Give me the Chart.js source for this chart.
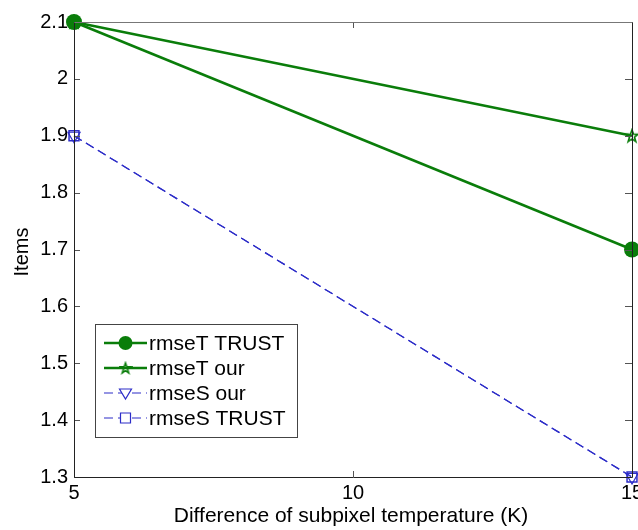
<!DOCTYPE html>
<html>
<head>
<meta charset="utf-8">
<script src="https://cdn.jsdelivr.net/npm/chart.js@4/dist/chart.umd.min.js"></script>
<style>
  html, body { margin: 0; padding: 0; background: #fff; }
  #chart { display: block; }
</style>
</head>
<body>
<canvas id="chart" width="638" height="530"></canvas>
<script>
const xValues = [5, 15];
const rmseTTrust = [2.1, 1.7];
const rmseTOur = [2.1, 1.9];
const rmseSOur = [1.9, 1.3];
const rmseSTrust = [1.9, 1.3];

const xTicks = [5, 10, 15];
const yTicks = [1.3, 1.4, 1.5, 1.6, 1.7, 1.8, 1.9, 2, 2.1];

const GREEN = '#0a7d0a';
const BLUE = 'rgb(45,45,200)';
const FONT = '20px "Liberation Sans", Arial, sans-serif';
const FONT_BIG = '21px "Liberation Sans", Arial, sans-serif';

// pentagram marker (outline) used for the "our" series
function makeStar(size, color) {
    const c = document.createElement('canvas');
    c.width = size; c.height = size;
    const g = c.getContext('2d');
    const cx = size / 2, cy = size / 2 + 0.5, R = size / 2 - 1.5, r = R * 0.4;
    g.beginPath();
    for (let i = 0; i < 10; i++) {
        const rad = i % 2 === 0 ? R : r;
        const a = -Math.PI / 2 + i * Math.PI / 5;
        const px = cx + rad * Math.cos(a), py = cy + rad * Math.sin(a);
        if (i === 0) g.moveTo(px, py); else g.lineTo(px, py);
    }
    g.closePath();
    g.strokeStyle = color;
    g.lineWidth = 1.6;
    g.stroke();
    return c;
}
const starImg = makeStar(16, GREEN);
const starSmall = makeStar(14, GREEN);

function toPoints(ys) {
    return xValues.map((x, i) => ({ x: x, y: ys[i] }));
}

const legendItems = [
    { label: 'rmseT TRUST', color: GREEN, width: 2.5, dash: [], marker: 'circle' },
    { label: 'rmseT our', color: GREEN, width: 2.5, dash: [], marker: 'star' },
    { label: 'rmseS our', color: BLUE, width: 1.2, dash: [9, 5], marker: 'triangle' },
    { label: 'rmseS TRUST', color: BLUE, width: 1.2, dash: [9, 5], marker: 'rect' }
];

// axes box, inward ticks, tick labels and titles
const axesPlugin = {
    id: 'axesBox',
    afterDatasetsDraw(chart) {
        const ctx = chart.ctx;
        const area = chart.chartArea;
        const xs = chart.scales.x, ys = chart.scales.y;
        ctx.save();

        // ticks
        ctx.strokeStyle = '#555';
        ctx.lineWidth = 1;
        ctx.beginPath();
        yTicks.forEach(v => {
            const py = Math.round(ys.getPixelForValue(v)) + 0.5;
            ctx.moveTo(area.left, py); ctx.lineTo(area.left + 6, py);
            ctx.moveTo(area.right, py); ctx.lineTo(area.right - 7, py);
        });
        xTicks.forEach(v => {
            const px = Math.round(xs.getPixelForValue(v)) + 0.5;
            ctx.moveTo(px, area.bottom); ctx.lineTo(px, area.bottom - 6);
            ctx.moveTo(px, area.top); ctx.lineTo(px, area.top + 6);
        });
        ctx.stroke();

        // frame
        const L = Math.round(area.left) + 0.5, R = Math.round(area.right) + 0.5;
        const T = Math.round(area.top) + 0.5, B = Math.round(area.bottom) + 0.5;
        ctx.strokeStyle = '#222';
        ctx.beginPath();
        ctx.moveTo(L, T); ctx.lineTo(L, B); ctx.lineTo(R, B); ctx.lineTo(R, T);
        ctx.stroke();
        ctx.strokeStyle = '#777';
        ctx.beginPath();
        ctx.moveTo(L, T); ctx.lineTo(R, T);
        ctx.stroke();

        // tick labels
        ctx.fillStyle = '#000';
        ctx.font = FONT;
        ctx.textAlign = 'right';
        ctx.textBaseline = 'middle';
        yTicks.forEach(v => {
            ctx.fillText(String(v), area.left - 6, ys.getPixelForValue(v));
        });
        ctx.textAlign = 'center';
        ctx.textBaseline = 'top';
        xTicks.forEach(v => {
            ctx.fillText(String(v), xs.getPixelForValue(v), area.bottom + 6);
        });

        // axis titles
        ctx.font = FONT_BIG;
        ctx.textBaseline = 'middle';
        ctx.fillText('Difference of subpixel temperature (K)', 351, 516);
        ctx.font = FONT;
        ctx.save();
        ctx.translate(22, 252);
        ctx.rotate(-Math.PI / 2);
        ctx.fillText('Items', 0, 0);
        ctx.restore();

        ctx.restore();
    }
};

// boxed legend with line sample + marker
const legendPlugin = {
    id: 'boxLegend',
    afterDraw(chart) {
        const ctx = chart.ctx;
        const bx = 95.5, by = 324.5, bw = 202, bh = 113;
        ctx.save();
        ctx.fillStyle = '#fff';
        ctx.fillRect(bx, by, bw, bh);
        ctx.strokeStyle = '#444';
        ctx.lineWidth = 1;
        ctx.strokeRect(bx, by, bw, bh);

        ctx.font = FONT_BIG;
        ctx.textAlign = 'left';
        ctx.textBaseline = 'middle';
        const mx = 125.5;
        legendItems.forEach((it, i) => {
            const y = 343 + i * 25;
            ctx.save();
            ctx.strokeStyle = it.color;
            ctx.lineWidth = it.width;
            ctx.setLineDash(it.dash);
            ctx.beginPath();
            ctx.moveTo(104, y); ctx.lineTo(147, y);
            ctx.stroke();
            ctx.restore();

            ctx.save();
            ctx.strokeStyle = it.color;
            ctx.lineWidth = 1.2;
            ctx.beginPath();
            if (it.marker === 'circle') {
                ctx.fillStyle = it.color;
                ctx.arc(mx, y, 7, 0, Math.PI * 2);
                ctx.fill();
            } else if (it.marker === 'star') {
                ctx.drawImage(starSmall, mx - 7, y - 7);
            } else if (it.marker === 'triangle') {
                ctx.fillStyle = '#fff';
                ctx.moveTo(mx - 6, y - 4); ctx.lineTo(mx + 6, y - 4); ctx.lineTo(mx, y + 6);
                ctx.closePath(); ctx.fill(); ctx.stroke();
            } else {
                ctx.fillStyle = '#fff';
                ctx.rect(mx - 5, y - 5, 10, 10);
                ctx.fill(); ctx.stroke();
            }
            ctx.restore();

            ctx.fillStyle = '#000';
            ctx.fillText(it.label, 149, y + 1);
        });
        ctx.restore();
    }
};

new Chart(document.getElementById('chart').getContext('2d'), {
    type: 'line',
    data: {
        datasets: [
            {
                label: 'rmseT TRUST',
                data: toPoints(rmseTTrust),
                borderColor: GREEN,
                backgroundColor: GREEN,
                borderWidth: 2.5,
                pointStyle: 'circle',
                pointRadius: 8,
                pointBorderWidth: 0,
                clip: false
            },
            {
                label: 'rmseT our',
                data: toPoints(rmseTOur),
                borderColor: GREEN,
                backgroundColor: GREEN,
                borderWidth: 2.5,
                pointStyle: starImg,
                pointRadius: 8,
                clip: false
            },
            {
                label: 'rmseS our',
                data: toPoints(rmseSOur),
                borderColor: BLUE,
                backgroundColor: 'rgba(0,0,0,0)',
                borderWidth: 1.2,
                borderDash: [9, 5],
                pointStyle: 'triangle',
                rotation: 180,
                pointRadius: 7,
                pointBorderWidth: 1.2,
                clip: false
            },
            {
                label: 'rmseS TRUST',
                data: toPoints(rmseSTrust),
                borderColor: BLUE,
                backgroundColor: 'rgba(0,0,0,0)',
                borderWidth: 1.2,
                borderDash: [9, 5],
                pointStyle: 'rect',
                pointRadius: 7,
                pointBorderWidth: 1.5,
                clip: false
            }
        ]
    },
    options: {
        responsive: false,
        animation: false,
        layout: { autoPadding: false, padding: { left: 74, right: 6, top: 22, bottom: 53 } },
        plugins: {
            legend: { display: false },
            tooltip: { enabled: false }
        },
        elements: { line: { tension: 0 } },
        scales: {
            x: { type: 'linear', min: 5, max: 15, display: false },
            y: { type: 'linear', min: 1.3, max: 2.1, display: false }
        }
    },
    plugins: [axesPlugin, legendPlugin]
});
</script>
</body>
</html>
